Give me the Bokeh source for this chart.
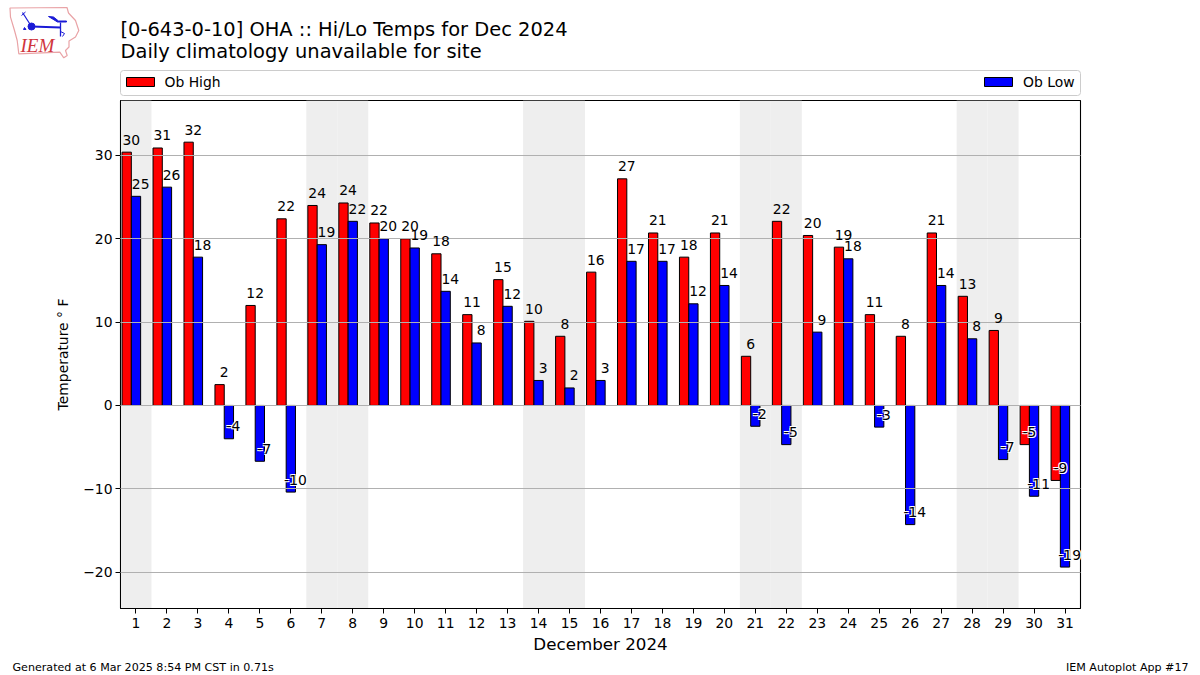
from bokeh.plotting import figure
from bokeh.layouts import column
from bokeh.embed import file_html
from bokeh.resources import INLINE
from bokeh.core.properties import value
from bokeh.models import Range1d, FixedTicker, BoxAnnotation

days = list(range(1, 32))
ob_high = [30.4, 30.9, 31.6, 2.5, 12.0, 22.4, 24.0, 24.3, 21.9, 20.0, 18.2, 10.9, 15.1, 10.1, 8.3, 16.0,
           27.2, 20.7, 17.8, 20.7, 5.9, 22.1, 20.4, 19.0, 10.9, 8.3, 20.7, 13.1, 9.0, -4.7, -9.0]
ob_low = [25.1, 26.2, 17.8, -4.0, -6.7, -10.4, 19.3, 22.1, 20.0, 18.9, 13.7, 7.5, 11.9, 3.0, 2.1, 3.0,
          17.3, 17.3, 12.2, 14.4, -2.5, -4.7, 8.8, 17.6, -2.6, -14.3, 14.4, 8.0, -6.5, -10.9, -19.4]
high_labels = ["30", "31", "32", "2", "12", "22", "24", "24", "22", "20", "18", "11", "15", "10", "8", "16",
               "27", "21", "18", "21", "6", "22", "20", "19", "11", "8", "21", "13", "9", "-5", "-9"]
low_labels = ["25", "26", "18", "-4", "-7", "-10", "19", "22", "20", "19", "14", "8", "12", "3", "2", "3",
              "17", "17", "12", "14", "-2", "-5", "9", "18", "-3", "-14", "14", "8", "-7", "-11", "-19"]
weekend_days = [1, 7, 8, 14, 15, 21, 22, 28, 29]
y_ticks = [-20, -10, 0, 10, 20, 30]
title_1 = "[0-643-0-10] OHA :: Hi/Lo Temps for Dec 2024"
title_2 = "Daily climatology unavailable for site"
footer_left = "Generated at 6 Mar 2025 8:54 PM CST in 0.71s"
footer_right = "IEM Autoplot App #17"
FONT = "DejaVu Sans"
YMIN, YMAX = -24.37, 36.6
BLUE = "#1a1ad6"


def pixel_figure(height, y_top):
    f = figure(width=1200, height=height, output_backend="svg", toolbar_location=None,
               x_range=Range1d(0, 1200), y_range=Range1d(y_top + height, y_top),
               x_axis_type=None, y_axis_type=None, frame_align=False,
               min_border_left=0, min_border_right=0, min_border_top=0, min_border_bottom=0)
    f.grid.visible = False
    f.outline_line_color = None
    return f


def put(f, text, x, y, size, align="left", color="black", font=FONT, style="normal", baseline="middle"):
    f.text(x=[x], y=[y], text=[text], text_font=value(font), text_font_size=size, text_color=color,
           text_align=align, text_baseline=baseline, text_font_style=style)


# ---- header: logo, titles, legend
head = pixel_figure(99, 0)
put(head, title_1, 120, 29, "19.44px")
put(head, title_2, 120, 50.5, "19.44px")
head.add_layout(BoxAnnotation(left=120, right=1080, top=70, bottom=95, fill_color="white", fill_alpha=1,
                              line_color="#cccccc", line_width=1, line_alpha=1, border_radius=3, level="underlay"))
head.quad(left=[126], right=[154], top=[77], bottom=[86], fill_color="red", line_color="black")
head.quad(left=[984], right=[1012], top=[77], bottom=[86], fill_color="blue", line_color="black")
put(head, "Ob High", 164, 81, "13.9px")
put(head, "Ob Low", 1074, 81, "13.9px", align="right")
head.patch(x=[9.5, 66.5, 68, 75, 78.3, 75, 68.5, 68.5, 65, 66.7, 63.3, 59.3, 18.3, 16.7, 14, 10, 9.5],
           y=[7.5, 7, 12.5, 20, 30, 36.5, 40.5, 46.5, 50, 55, 57.3, 51.7, 53.3, 40, 30, 16.7, 7.5],
           fill_color=None, line_color="#e9a3a6", line_width=1.2)
head.line(x=[31, 60], y=[26, 27], line_color=BLUE, line_width=1.8)
head.line(x=[60, 60], y=[22, 36], line_color=BLUE, line_width=1.3)
head.patch(x=[48, 53, 58, 66, 66, 57], y=[16, 16.5, 20.5, 20.5, 21.5, 21.5], fill_color=BLUE, line_color=BLUE)
head.line(x=[22, 31], y=[12, 26], line_color=BLUE, line_width=1.2)
head.line(x=[21, 25], y=[15, 11.5], line_color=BLUE, line_width=1)
head.scatter(x=[31], y=[26], size=7, marker="circle", color=BLUE)
head.patch(x=[24, 25.5, 23], y=[27, 29, 29], fill_color=BLUE, line_color=BLUE)
head.line(x=[60, 64, 62], y=[31, 33, 36], line_color=BLUE, line_width=1)
put(head, "IEM", 20, 45, "19px", color="#d0353c", font="Liberation Serif", style="italic")

# ---- main chart
p = figure(width=1200, height=562, output_backend="svg", toolbar_location=None,
           x_range=Range1d(0.5, 31.5), y_range=Range1d(YMIN, YMAX), frame_align=False,
           min_border_left=120, min_border_right=120, min_border_top=1, min_border_bottom=53)
p.outline_line_color = "black"
p.outline_line_width = 1.1
p.xgrid.visible = False
p.ygrid.level = "guide"
p.ygrid.grid_line_color = "#b0b0b0"
p.ygrid.grid_line_width = 1.1
p.ygrid.ticker = FixedTicker(ticks=y_ticks)
p.xaxis.ticker = FixedTicker(ticks=days)
p.yaxis.ticker = FixedTicker(ticks=y_ticks)
for ax in (p.xaxis[0], p.yaxis[0]):
    ax.minor_tick_line_color = None
    ax.major_tick_in = 0
    ax.major_tick_out = 5
    ax.major_tick_line_color = "black"
    ax.axis_line_color = "black"
    ax.major_label_text_font = FONT
    ax.major_label_text_font_size = "13.9px"
    ax.major_label_text_color = "black"
    ax.major_label_standoff = 3
    ax.axis_label_text_font = FONT
    ax.axis_label_text_font_style = "normal"
    ax.axis_label_text_color = "black"
p.xaxis.major_label_standoff = 4
p.xaxis.axis_label = "December 2024"
p.xaxis.axis_label_text_font_size = "16.7px"
p.xaxis.axis_label_standoff = 3
p.yaxis.axis_label = "Temperature \u00b0 F"
p.yaxis.axis_label_text_font_size = "13.9px"
p.yaxis.axis_label_standoff = 9

p.vbar(x=weekend_days, width=1.0, top=YMAX, bottom=YMIN, fill_color="#eeeeee",
       line_color=None, level="underlay")
p.vbar(x=[d - 0.3 for d in days], width=0.3, top=ob_high, bottom=0,
       fill_color="red", line_color="black", line_width=1)
p.vbar(x=days, width=0.3, top=ob_low, bottom=0,
       fill_color="blue", line_color="black", line_width=1)

OFFSET = -7.5
neg_x = [d - 0.15 for d, v in zip(days, ob_high) if v < 0] + [d + 0.15 for d, v in zip(days, ob_low) if v < 0]
neg_y = [v for v in ob_high if v < 0] + [v for v in ob_low if v < 0]
neg_t = [t for t, v in zip(high_labels, ob_high) if v < 0] + [t for t, v in zip(low_labels, ob_low) if v < 0]
for dx, dy in ((-1, -1), (1, -1), (-1, 1), (1, 1)):
    p.text(x=neg_x, y=neg_y, text=neg_t, level="overlay", text_align="center", text_baseline="bottom",
           x_offset=dx, y_offset=OFFSET + dy, text_font=value(FONT), text_font_size="13.9px", text_color="white")
p.text(x=[d - 0.15 for d in days], y=ob_high, text=high_labels, level="overlay", text_align="center",
       text_baseline="bottom", y_offset=OFFSET, text_font=value(FONT), text_font_size="13.9px", text_color="black")
p.text(x=[d + 0.15 for d in days], y=ob_low, text=low_labels, level="overlay", text_align="center",
       text_baseline="bottom", y_offset=OFFSET, text_font=value(FONT), text_font_size="13.9px", text_color="black")

# ---- footer
foot = pixel_figure(14, 661)
put(foot, footer_left, 12, 666.5, "11.1px")
put(foot, footer_right, 1188, 666.5, "11.1px", align="right")

open("out.html", "w").write(file_html(column(head, p, foot, spacing=0), INLINE))
